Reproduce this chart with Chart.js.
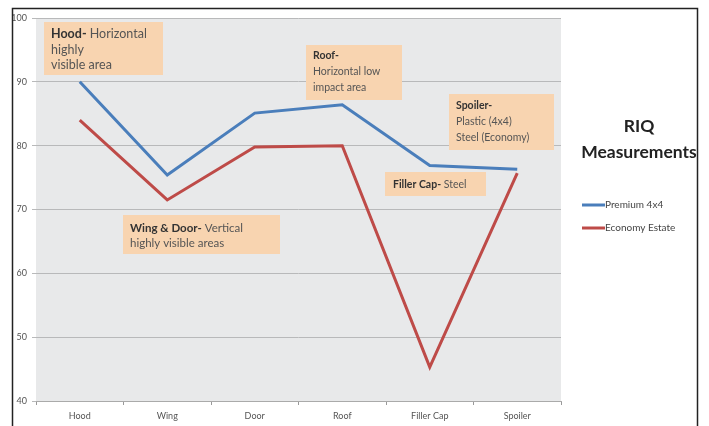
<!DOCTYPE html>
<html><head><meta charset="utf-8">
<script src="https://cdn.jsdelivr.net/npm/chart.js@4"></script>
<style>html,body{margin:0;padding:0;background:#fff}#wrap{width:709px;height:426px;position:relative}</style>
</head><body><div id="wrap"><canvas id="c" width="709" height="426"></canvas></div>
<script>
const categories = ["Hood","Wing","Door","Roof","Filler Cap","Spoiler"];
const premium = [90, 75.4, 85.1, 86.4, 76.9, 76.3];
const economy = [84, 71.5, 79.8, 80, 45.3, 75.7];
const seriesNames = ["Premium 4x4","Economy Estate"];
const yTicks = [40,50,60,70,80,90,100];
const titleLines = ["RIQ","Measurements"];
const notes = [
  {bold:"Hood-", rest:[" Horizontal","highly","visible area"]},
  {bold:"Roof-", rest:["","Horizontal low","impact area"]},
  {bold:"Spoiler-", rest:["","Plastic (4x4)","Steel (Economy)"]},
  {bold:"Filler Cap-", rest:[" Steel"]},
  {bold:"Wing & Door-", rest:[" Vertical","highly visible areas"]}
];
// box geometry (pixels) for annotation callouts
const noteBoxes = [
  {x:44,y:22,w:119,h:53,size:12.5,lh:15.5,tx:51,ty:34},
  {x:306,y:45,w:96,h:55,size:10.5,lh:16,tx:313,ty:56},
  {x:449,y:94,w:105,h:56,size:10.5,lh:16,tx:456,ty:106},
  {x:385,y:172,w:101,h:24,size:10.5,lh:16,tx:393,ty:185},
  {x:123,y:215,w:157,h:39,size:11.5,lh:15,tx:130,ty:228}
];
const colors = ["#4a7ebb","#be4b48"];

const deco = {
  id:'deco',
  beforeDraw(chart){
    const {ctx, chartArea:a} = chart;
    ctx.save();
    ctx.fillStyle = '#e8e9ea';
    ctx.fillRect(a.left, a.top, a.right-a.left, a.bottom-a.top);
    ctx.restore();
  },
  afterDraw(chart){
    const ctx = chart.ctx;
    ctx.save();
    notes.forEach((n,i)=>{
      const b = noteBoxes[i];
      ctx.fillStyle = '#f8d4b0';
      ctx.fillRect(b.x,b.y,b.w,b.h);
      ctx.textBaseline = 'middle';
      ctx.font = `bold ${b.size}px Lato, "Open Sans", sans-serif`;
      ctx.fillStyle = '#333';
      ctx.fillText(n.bold, b.tx, b.ty);
      const bw = ctx.measureText(n.bold).width;
      ctx.font = `${b.size}px Lato, "Open Sans", sans-serif`;
      ctx.fillStyle = '#555';
      n.rest.forEach((t,j)=>{
        if(j===0){ if(t) ctx.fillText(t, b.tx+bw, b.ty); }
        else ctx.fillText(t, b.tx, b.ty + j*b.lh);
      });
    });
    ctx.fillStyle = '#222';
    ctx.font = 'bold 17.5px Lato, "Open Sans", sans-serif';
    ctx.textAlign = 'center';
    ctx.fillText(titleLines[0], 639, 126);
    ctx.fillText(titleLines[1], 639, 152);
    ctx.textAlign = 'left';
    ctx.font = '10px Lato, "Open Sans", sans-serif';
    seriesNames.forEach((s,i)=>{
      const y = 205 + i*23;
      ctx.strokeStyle = colors[i];
      ctx.lineWidth = 3;
      ctx.beginPath(); ctx.moveTo(582,y); ctx.lineTo(605,y); ctx.stroke();
      ctx.fillStyle = '#444';
      ctx.fillText(s, 605, y);
    });
    ctx.strokeStyle = '#222';
    ctx.lineWidth = 1.5;
    ctx.strokeRect(12.5, 8.5, 685, 430);
    ctx.restore();
  }
};

new Chart(document.getElementById('c'), {
  type:'line',
  data:{
    labels:categories,
    datasets:[
      {label:seriesNames[0], data:premium, borderColor:colors[0], borderWidth:3, pointRadius:0, tension:0, fill:false},
      {label:seriesNames[1], data:economy, borderColor:colors[1], borderWidth:3, pointRadius:0, tension:0, fill:false}
    ]
  },
  options:{
    responsive:false, animation:false,
    layout:{padding:{left:0,right:148,top:18,bottom:0}},
    plugins:{legend:{display:false}, tooltip:{enabled:false}},
    scales:{
      x:{
        offset:true,
        grid:{offset:true, drawOnChartArea:false, drawTicks:true, tickLength:4, color:'#999'},
        border:{color:'#aaa'},
        ticks:{font:{size:9, family:'Lato, "Open Sans", sans-serif'}, color:'#555', padding:6},
        afterFit(s){ s.height = 25; }
      },
      y:{
        min:40, max:100,
        afterBuildTicks(s){ s.ticks = yTicks.map(v=>({value:v})); },
        grid:{color:'#b8b9ba', lineWidth:1, tickLength:4},
        border:{display:false},
        ticks:{font:{size:9, family:'Lato, "Open Sans", sans-serif'}, color:'#555', padding:5},
        afterFit(s){ s.width = 36; }
      }
    }
  },
  plugins:[deco]
});
</script></body></html>
